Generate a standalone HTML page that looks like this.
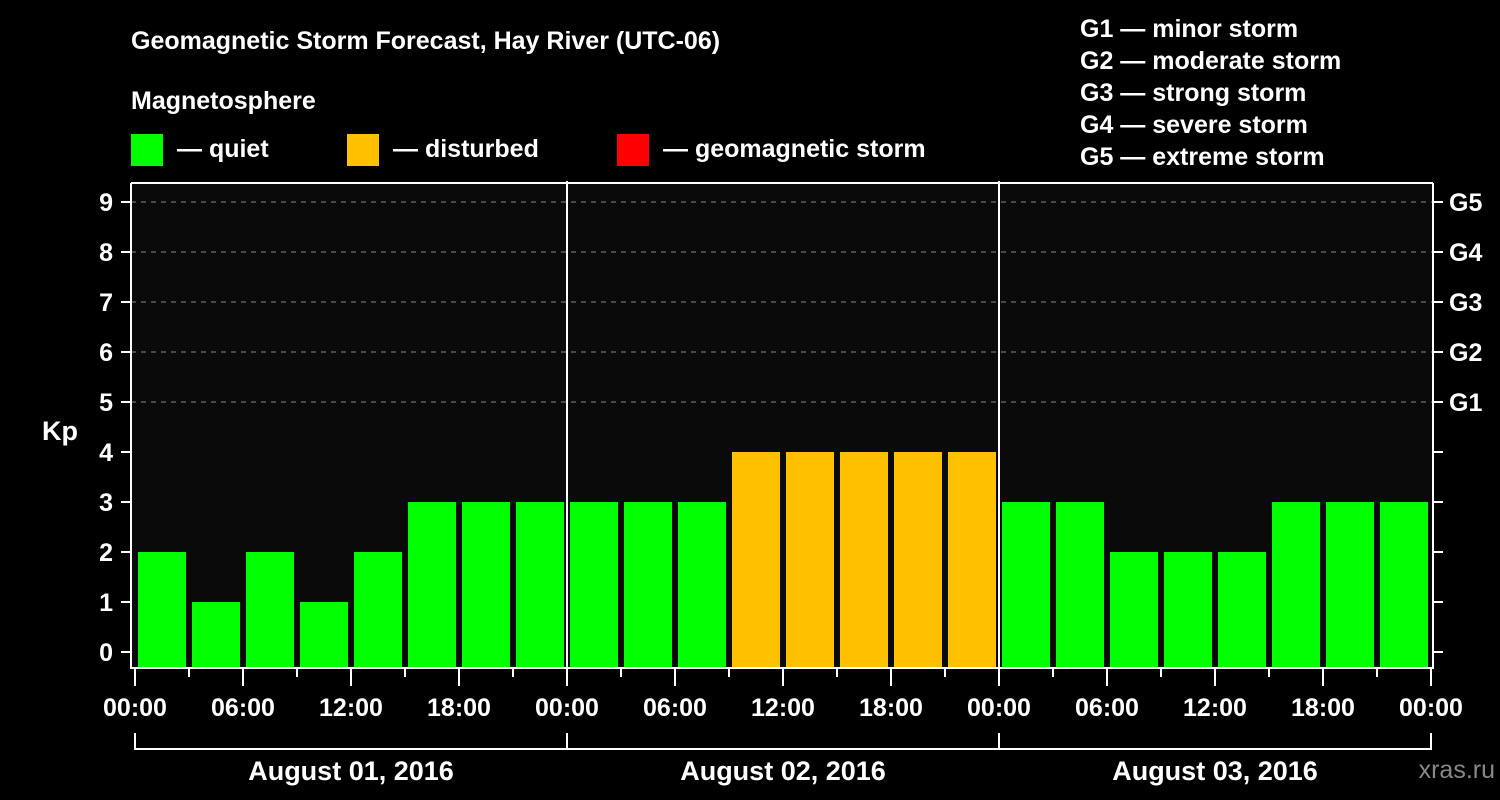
<!DOCTYPE html>
<html><head><meta charset="utf-8"><style>
html,body{margin:0;padding:0;background:#000;}
svg{display:block;font-family:"Liberation Sans",Arial,sans-serif;font-weight:bold;}
</style></head><body>
<svg id="chart" width="1500" height="800" viewBox="0 0 1500 800">
<rect x="0" y="0" width="1500" height="800" fill="#000"/>
<rect x="131" y="183" width="1302" height="485" fill="#0a0a0a"/>
<text x="131" y="49" fill="#fff" font-size="25">Geomagnetic Storm Forecast, Hay River (UTC-06)</text>
<text x="131" y="109" fill="#fff" font-size="25">Magnetosphere</text>
<g>
<rect x="131" y="134" width="32" height="32" fill="#00ff00"/>
<text x="177" y="157" fill="#fff" font-size="25">— quiet</text>
<rect x="347" y="134" width="32" height="32" fill="#ffc000"/>
<text x="393" y="157" fill="#fff" font-size="25">— disturbed</text>
<rect x="617" y="134" width="32" height="32" fill="#ff0000"/>
<text x="663" y="157" fill="#fff" font-size="25">— geomagnetic storm</text>
</g>
<g fill="#fff" font-size="25">
<text x="1080" y="37">G1 — minor storm</text>
<text x="1080" y="69">G2 — moderate storm</text>
<text x="1080" y="101">G3 — strong storm</text>
<text x="1080" y="133">G4 — severe storm</text>
<text x="1080" y="165">G5 — extreme storm</text>
</g>
<text x="42" y="440" fill="#fff" font-size="27">Kp</text>
<text x="1495" y="778" fill="#888" font-size="25" text-anchor="end" font-weight="normal">xras.ru</text>
<g id="grid"></g><g id="bars"></g><g id="axes"></g>
</svg>
<script>
const kpValues = [2,1,2,1,2,3,3,3, 3,3,3,4,4,4,4,4, 3,3,2,2,2,3,3,3];
const dayLabels = ["August 01, 2016","August 02, 2016","August 03, 2016"];
const hourLabels = ["00:00","06:00","12:00","18:00"];
const yTicks = [0,1,2,3,4,5,6,7,8,9];
const gLabels = ["G1","G2","G3","G4","G5"];
const NS="http://www.w3.org/2000/svg";
const X0=135, DAY=432, STEP=54;
const yS = v => 652 - 50*v;
const xS = i => X0 + STEP*i;
function mk(tag, attrs, parent, text){const e=document.createElementNS(NS,tag);for(const k in attrs)e.setAttribute(k,attrs[k]);if(text!==undefined)e.textContent=text;parent.appendChild(e);return e;}
const grid=document.getElementById('grid'), bars=document.getElementById('bars'), axes=document.getElementById('axes');
// gridlines kp 5..9
yTicks.filter(v=>v>=5).forEach(v=>{
  const l=mk('line',{x1:131,x2:1433,y1:yS(v),y2:yS(v),stroke:'#888','stroke-width':1,'stroke-dasharray':'5,5'},grid);
  
  
});
kpValues.forEach((v,i)=>{
  const c = v>=5 ? '#ff0000' : (v>=4 ? '#ffc000' : '#00ff00');
  const r=mk('rect',{x:xS(i)+3,y:yS(v),width:48,height:667-yS(v),fill:c},bars);
  
  
});
// day separators
for(let d=1;d<dayLabels.length;d++){
  const l=mk('line',{x1:X0+DAY*d,x2:X0+DAY*d,y1:181,y2:668,stroke:'#fff','stroke-width':2},axes);
  
  
}
// frame
const fr=mk('path',{d:'M131,183 L1433,183 M131,183 L131,668 L1433,668 L1433,183',stroke:'#fff','stroke-width':2,fill:'none'},axes);


yTicks.forEach(v=>{
  mk('line',{x1:121,x2:131,y1:yS(v),y2:yS(v),stroke:'#fff','stroke-width':2},axes);
  mk('line',{x1:1433,x2:1443,y1:yS(v),y2:yS(v),stroke:'#fff','stroke-width':2},axes);
  const t=mk('text',{x:113,y:yS(v)+9,fill:'#fff','font-size':25,'text-anchor':'end'},axes,String(v));
  
  
});
gLabels.forEach((g,i)=>{
  const t=mk('text',{x:1449,y:yS(5+i)+9,fill:'#fff','font-size':25},axes,g);
  
  
});
for(let i=0;i<=kpValues.length;i++){
  const major=i%2===0;
  mk('line',{x1:xS(i),x2:xS(i),y1:668,y2:major?686:677,stroke:'#fff','stroke-width':2},axes);
  if(major){
    const t=mk('text',{x:xS(i),y:716,fill:'#fff','font-size':25,'text-anchor':'middle'},axes,hourLabels[(i/2)%4]);
    
    
  }
}
mk('path',{d:`M${X0},733 L${X0},749 L${X0+DAY*dayLabels.length},749 L${X0+DAY*dayLabels.length},733`,stroke:'#fff','stroke-width':2,fill:'none'},axes);
dayLabels.forEach((d,i)=>{
  mk('line',{x1:X0+DAY*i,x2:X0+DAY*i,y1:733,y2:749,stroke:'#fff','stroke-width':2},axes);
  const t=mk('text',{x:X0+DAY*i+DAY/2,y:780,fill:'#fff','font-size':27,'text-anchor':'middle'},axes,d);
  
  
});
</script>
</body></html>
